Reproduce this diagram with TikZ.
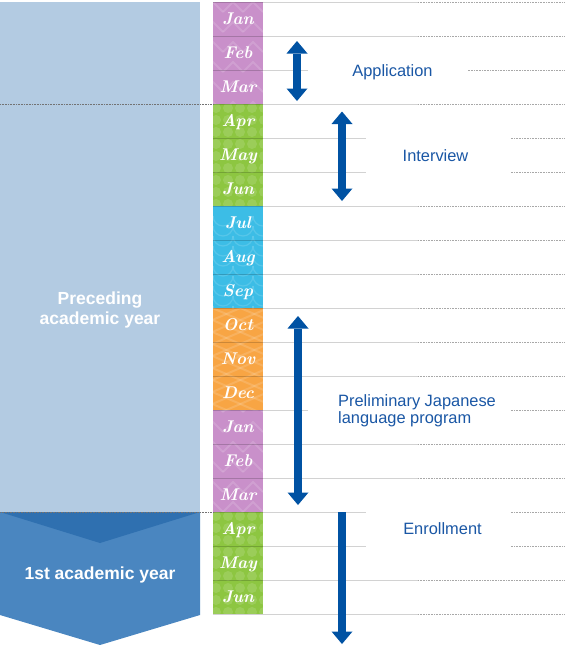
\documentclass[tikz,border=0pt]{standalone}
\usepackage{fontspec}
\newfontfamily\lsans{Liberation Sans}
\usetikzlibrary{arrows.meta}
\definecolor{panel}{HTML}{B3CBE2}
\definecolor{yearblue}{HTML}{4A86C0}
\definecolor{yeardark}{HTML}{2F70B0}
\definecolor{arrowblue}{HTML}{0052A3}
\definecolor{textblue}{HTML}{1A57A5}
\definecolor{mpurple}{HTML}{C990CA}
\definecolor{mgreen}{HTML}{8DC641}
\definecolor{mcyan}{HTML}{3CBDE6}
\definecolor{morange}{HTML}{F8A544}
\definecolor{rulegray}{HTML}{D2D2D2}
\definecolor{dotgray}{HTML}{A8A8A8}
\tikzset{
  monthlabel/.style={text=white, font=\fontsize{17}{17}\selectfont\bfseries\itshape, anchor=base, inner sep=0pt},
  labeltext/.style={text=textblue, font=\lsans\fontsize{16.4}{16.5}\selectfont, inner sep=0pt},
  yeartext/.style={text=white, font=\lsans\bfseries\fontsize{17.5}{19.5}\selectfont, inner sep=0pt, align=center},
  cellrule/.style={draw=black, draw opacity=0.18, line width=0.7pt},
  softrule/.style={draw=rulegray, line width=0.7pt},
  dotrule/.style={draw=dotgray, line width=0.7pt, dash pattern=on 0.8pt off 0.8pt},
  panelrule/.style={draw=gray!90!black, line width=0.8pt, dash pattern=on 0.8pt off 0.8pt},
  span/.style={draw=arrowblue, line width=8.5pt, {Triangle[width=21pt,length=12.5pt,line width=0pt 0]}-{Triangle[width=21pt,length=12.5pt,line width=0pt 0]}},
  onespan/.style={draw=arrowblue, line width=8.5pt, -{Triangle[width=21pt,length=12.5pt,line width=0pt 0]}},
  patline/.style={draw=white, draw opacity=0.14, line width=2pt},
}
\begin{document}
\begin{tikzpicture}[x=1pt,y=-1pt]
\useasboundingbox (0,0) rectangle (565,645);
% year panels
\fill[panel] (0,2) rectangle (200,512);
\fill[yearblue] (0,512) -- (200,512) -- (200,615) -- (100,645) -- (0,615) -- cycle;
\fill[yeardark] (0,512) -- (200,512) -- (100,543) -- cycle;
% month cells
\foreach \i/\c in {0/mpurple,1/mpurple,2/mpurple,3/mgreen,4/mgreen,5/mgreen,6/mcyan,7/mcyan,8/mcyan,9/morange,10/morange,11/morange,12/mpurple,13/mpurple,14/mpurple,15/mgreen,16/mgreen,17/mgreen}{
  \fill[\c] (213,{2+34*\i}) rectangle (263,{36+34*\i});
}
% subtle patterns
\begin{scope}
  \clip (213,2) rectangle (263,104) (213,410) rectangle (263,512);
  \foreach \yy in {2,22,...,520}{
    \foreach \xx in {203,223,...,263}{
      \draw[patline] (\xx,\yy+10) -- (\xx+10,\yy) -- (\xx+20,\yy+10);
    }
  }
\end{scope}
\begin{scope}
  \clip (213,104) rectangle (263,206) (213,512) rectangle (263,614);
  \foreach \yy in {108,120,...,620}{
    \foreach \xx in {216,228,...,264}{
      \fill[white, opacity=0.13] (\xx,\yy) circle (5);
    }
  }
\end{scope}
\begin{scope}
  \clip (213,206) rectangle (263,308);
  \foreach \yy in {206,216,...,316}{
    \foreach \xx in {203,223,...,273}{
      \draw[patline, line width=1.2pt] (\xx-10,\yy+10) arc (180:360:10 and -10);
    }
  }
\end{scope}
\begin{scope}
  \clip (213,308) rectangle (263,410);
  \foreach \yy in {300,312,...,430}{
    \draw[patline] (203,\yy) -- (273,\yy-30);
    \draw[patline] (203,\yy-20) -- (273,\yy+10);
  }
\end{scope}
% rules
\foreach \k in {0,...,18}{
  \pgfmathsetmacro\yy{2+34*\k}
  \draw[cellrule] (213,\yy) -- (263,\yy);
  \draw[softrule] (263,\yy) -- (418,\yy);
  \draw[dotrule] (418,\yy) -- (565,\yy);
}
\draw[panelrule] (0,104) -- (213,104);
\draw[panelrule] (0,512) -- (213,512);
% month labels
\foreach \i/\m in {0/Jan,1/Feb,2/Mar,3/Apr,4/May,5/Jun,6/Jul,7/Aug,8/Sep,9/Oct,10/Nov,11/Dec,12/Jan,13/Feb,14/Mar,15/Apr,16/May,17/Jun}{
  \node[monthlabel] (m\i) at (238,{24.5+34*\i}) {\m};
}
% year labels
\node[yeartext] (prec) at (100,310) {Preceding\\academic year};
\node[yeartext, anchor=base] (first) at (100,579) {1st academic year};
% label masks
\fill[white] (308,50) rectangle (468,90);
\fill[white] (366,110) rectangle (511,200);
\fill[white] (308,390) rectangle (510,430);
\fill[white] (366,507) rectangle (511,565);
% labels
\node[labeltext, anchor=base] (app) at (392.5,76) {Application};
\node[labeltext, anchor=base] (int) at (435.5,161) {Interview};
\node[labeltext, anchor=west, align=left] (pre) at (338,411) {Preliminary Japanese\\language program};
\node[labeltext, anchor=base] (enr) at (442.5,534.5) {Enrollment};
% span arrows
\coordinate (appTop) at (297,41);
\coordinate (appBot) at (297,101);
\coordinate (intTop) at (342,111.5);
\coordinate (intBot) at (342,201);
\coordinate (preTop) at (298,316);
\coordinate (preBot) at (298,505);
\coordinate (enrTop) at (342,512);
\coordinate (enrBot) at (342,644);
\draw[span] (appTop) -- (appBot);
\draw[span] (intTop) -- (intBot);
\draw[span] (preTop) -- (preBot);
\draw[onespan] (enrTop) -- (enrBot);
\end{tikzpicture}
\end{document}
